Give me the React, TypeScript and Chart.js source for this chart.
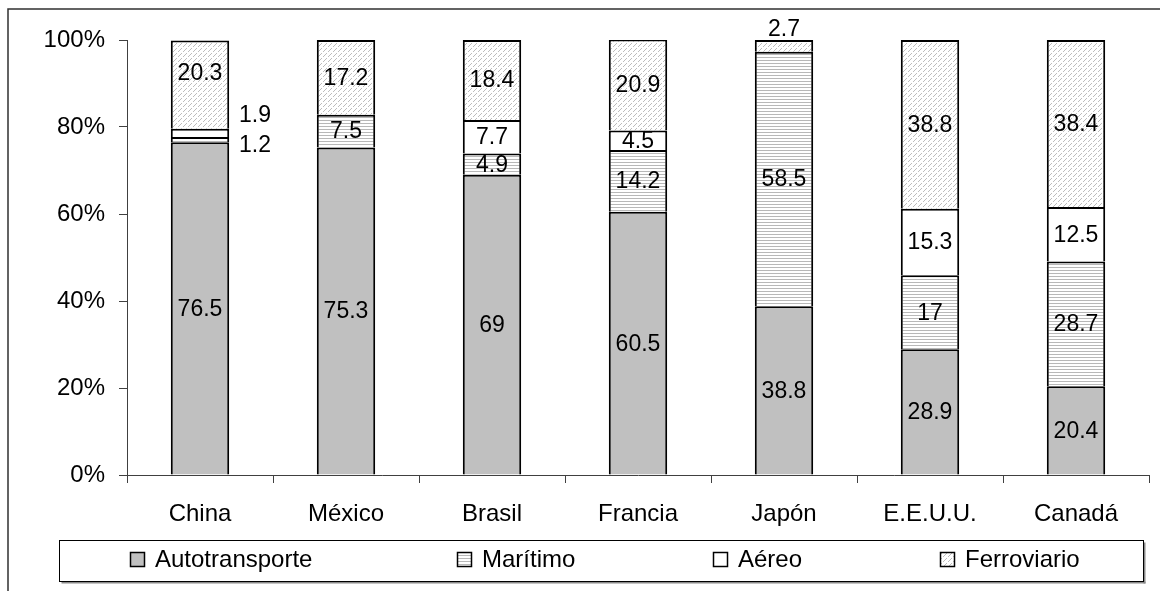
import React, { useEffect, useRef } from "react";
import { Chart, registerables } from "chart.js";

Chart.register(...registerables);

// Modal split of freight transport by country (percent of total)
const categories = ["China", "México", "Brasil", "Francia", "Japón", "E.E.U.U.", "Canadá"];
const seriesNames = ["Autotransporte", "Marítimo", "Aéreo", "Ferroviario"];
const autotransporte = [76.5, 75.3, 69, 60.5, 38.8, 28.9, 20.4];
const maritimo = [1.2, 7.5, 4.9, 14.2, 58.5, 17, 28.7];
const aereo = [1.9, 0, 7.7, 4.5, 0, 15.3, 12.5];
const ferroviario = [20.3, 17.2, 18.4, 20.9, 2.7, 38.8, 38.4];
const yTicks = [0, 20, 40, 60, 80, 100];

const FONT = "'Liberation Sans', Arial, Helvetica, sans-serif";
const W = 1160;
const H = 591;

// Labels that sit outside (or shifted within) their segment: "dataset:index" -> offset from centre
const labelShift: Record<string, { dx: number; dy: number }> = {
  "1:0": { dx: 55, dy: 5 },
  "2:0": { dx: 55, dy: -18 },
  "3:0": { dx: 0, dy: -12 },
  "3:4": { dx: 0, dy: -17 },
};

function makeHorizontalPattern(): CanvasPattern | string {
  const c = document.createElement("canvas");
  c.width = 4;
  c.height = 3;
  const g = c.getContext("2d");
  if (!g) return "#dddddd";
  g.fillStyle = "#ffffff";
  g.fillRect(0, 0, 4, 3);
  g.fillStyle = "#b8b8b8";
  g.fillRect(0, 0, 4, 1);
  return g.createPattern(c, "repeat") || "#dddddd";
}

function makeDiagonalPattern(): CanvasPattern | string {
  const n = 5;
  const c = document.createElement("canvas");
  c.width = n;
  c.height = n;
  const g = c.getContext("2d");
  if (!g) return "#dddddd";
  g.fillStyle = "#ffffff";
  g.fillRect(0, 0, n, n);
  g.fillStyle = "#bdbdbd";
  for (let i = 0; i < n; i++) {
    if (i === 2) continue; // broken stroke, like a dashed hatch
    g.fillRect(n - 1 - i, i, 1, 1);
  }
  return g.createPattern(c, "repeat") || "#dddddd";
}

export default function App() {
  const canvasRef = useRef<HTMLCanvasElement | null>(null);

  useEffect(() => {
    const canvas = canvasRef.current;
    if (!canvas) return;

    const hPat = makeHorizontalPattern();
    const dPat = makeDiagonalPattern();
    const fills: (string | CanvasPattern)[] = ["#c0c0c0", hPat, "#ffffff", dPat];
    const values = [autotransporte, maritimo, aereo, ferroviario];

    const framePlugin = {
      id: "frame",
      beforeDraw(chart: Chart) {
        const ctx = chart.ctx;
        ctx.save();
        ctx.fillStyle = "#ffffff";
        ctx.fillRect(0, 0, W, H);
        ctx.strokeStyle = "#303030";
        ctx.lineWidth = 1.5;
        ctx.beginPath();
        ctx.moveTo(8, H + 2);
        ctx.lineTo(8, 9);
        ctx.lineTo(W + 2, 9);
        ctx.stroke();
        ctx.restore();
      },
    };

    const valueLabels = {
      id: "valueLabels",
      afterDatasetsDraw(chart: Chart) {
        const ctx = chart.ctx;
        ctx.save();
        ctx.font = `23px ${FONT}`;
        ctx.fillStyle = "#000000";
        ctx.textAlign = "center";
        ctx.textBaseline = "middle";
        chart.data.datasets.forEach((ds, di) => {
          const meta = chart.getDatasetMeta(di);
          meta.data.forEach((el: any, i: number) => {
            const v = (ds.data as number[])[i];
            if (!v) return;
            const cy = (el.y + el.base) / 2;
            const s = labelShift[`${di}:${i}`] || { dx: 0, dy: 0 };
            ctx.fillText(String(v), el.x + s.dx, cy + s.dy + 1);
          });
        });
        ctx.restore();
      },
    };

    const boxLegend = {
      id: "boxLegend",
      afterDraw(chart: Chart) {
        const ctx = chart.ctx;
        ctx.save();
        const bx = 59.5, by = 540.5, bw = 1084, bh = 41;
        // drop shadow
        ctx.fillStyle = "#8a8a8a";
        ctx.fillRect(bx + 2, by + bh, bw, 2);
        ctx.fillRect(bx + bw, by + 2, 2, bh);
        ctx.fillStyle = "#ffffff";
        ctx.fillRect(bx, by, bw, bh);
        ctx.strokeStyle = "#000000";
        ctx.lineWidth = 1;
        ctx.strokeRect(bx, by, bw, bh);

        const markerX = [130, 457, 713, 940];
        ctx.font = `24px ${FONT}`;
        ctx.textAlign = "left";
        ctx.textBaseline = "alphabetic";
        seriesNames.forEach((name, k) => {
          const mx = markerX[k];
          ctx.fillStyle = fills[k] as any;
          ctx.fillRect(mx, 552, 14, 14);
          ctx.strokeStyle = "#000000";
          ctx.lineWidth = 1.5;
          ctx.strokeRect(mx + 0.5, 552.5, 14, 14);
          ctx.fillStyle = "#000000";
          ctx.fillText(name, mx + 25, 567);
        });
        ctx.restore();
      },
    };

    const chart = new Chart(canvas, {
      type: "bar",
      data: {
        labels: categories,
        datasets: seriesNames.map((name, k) => ({
          label: name,
          data: values[k],
          backgroundColor: fills[k] as any,
          borderColor: "#000000",
          borderWidth: { top: 2, bottom: 0, left: 2, right: 2 },
          borderSkipped: false,
          categoryPercentage: 1,
          barPercentage: 0.4,
        })),
      },
      options: {
        responsive: false,
        animation: false,
        devicePixelRatio: 1,
        events: [],
        layout: { padding: { left: 0, top: 40, right: 11, bottom: 0 } },
        plugins: {
          legend: { display: false },
          tooltip: { enabled: false },
          title: { display: false },
        },
        scales: {
          x: {
            stacked: true,
            grid: {
              display: true,
              drawOnChartArea: false,
              drawTicks: true,
              tickLength: 8,
              color: "#404040",
              offset: true,
            },
            border: { display: true, color: "#404040", width: 1 },
            ticks: {
              color: "#000000",
              font: { family: FONT, size: 24 },
              padding: 17,
              maxRotation: 0,
              autoSkip: false,
            },
            afterFit(scale: any) {
              scale.height = 116;
            },
          },
          y: {
            stacked: true,
            min: 0,
            max: 100,
            afterBuildTicks(scale: any) {
              scale.ticks = yTicks.map((v) => ({ value: v }));
            },
            grid: {
              display: true,
              drawOnChartArea: false,
              drawTicks: true,
              tickLength: 8,
              color: "#404040",
            },
            border: { display: true, color: "#404040", width: 1 },
            ticks: {
              color: "#000000",
              font: { family: FONT, size: 24 },
              padding: 14,
              callback: (v: any) => `${v}%`,
            },
            afterFit(scale: any) {
              scale.width = 127;
            },
          },
        },
      },
      plugins: [framePlugin, valueLabels, boxLegend],
    });

    return () => chart.destroy();
  }, []);

  return (
    <div style={{ position: "absolute", left: 0, top: 0, width: W, height: H, background: "#ffffff" }}>
      <canvas ref={canvasRef} width={W} height={H} style={{ display: "block", width: W, height: H }} />
    </div>
  );
}
